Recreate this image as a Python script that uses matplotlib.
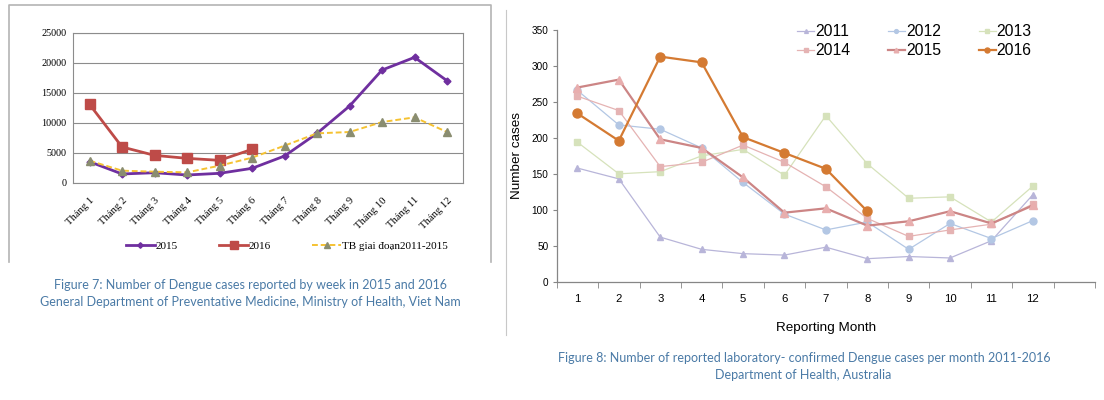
import numpy as np
import matplotlib
matplotlib.use('Agg')
import matplotlib.pyplot as plt
from matplotlib.lines import Line2D

W, H = 1104, 400

# --- left chart: Viet Nam, cases per month ---
vn_months = ['Tháng %d' % i for i in range(1, 13)]
vn_2015 = [3540, 1500, 1710, 1330, 1610, 2440, 4490, 8260, 12800, 18790, 20900, 17010]
vn_2016 = [13080, 5990, 4600, 4100, 3770, 5600]
vn_avg = [3710, 2050, 1880, 1770, 2880, 4210, 6210, 8260, 8480, 10140, 10920, 8480]
vn_yticks = [0, 5000, 10000, 15000, 20000, 25000]

# --- right chart: Australia, lab-confirmed cases per month ---
au_months = list(range(1, 13))
au_2011 = [158, 143, 62, 45, 39, 37, 48, 32, 35, 33, 57, 121]
au_2012 = [266, 218, 212, 186, 138, 94, 72, 83, 45, 81, 60, 85]
au_2013 = [194, 150, 153, 175, 184, 148, 231, 164, 116, 118, 83, 133]
au_2014 = [258, 238, 160, 166, 190, 166, 132, 88, 63, 72, 80, 108]
au_2015 = [270, 281, 198, 186, 145, 96, 102, 78, 84, 98, 81, 106]
au_2016 = [234, 196, 313, 305, 201, 179, 157, 98]

caption_col = '#4a7aa6'
serif = 'Liberation Serif'
sans = 'Liberation Sans'

def px(x0, y0, x1, y1):
    # pixel box (top-left origin) -> figure fraction rect
    return [x0 / W, 1 - y1 / H, (x1 - x0) / W, (y1 - y0) / H]

def fline(fig, xs, ys, **kw):
    fig.add_artist(Line2D([x / W for x in xs], [1 - y / H for y in ys],
                          transform=fig.transFigure, **kw))

fig = plt.figure(figsize=(W / 100, H / 100), dpi=100)

# frames around the two panels
fline(fig, [9.3, 9.3, 490.7, 490.7], [262, 5, 5, 262], color='#b4b4b4', lw=1.2)
fline(fig, [506, 506], [10, 335], color='#c8c8c8', lw=0.8)

# ---------------- left ----------------
ax1 = fig.add_axes(px(73.3, 32.7, 463.3, 183))
x = np.arange(1, 13)
ax1.plot(x, vn_2015, color='#6f2f9f', lw=2, marker='D', ms=3.5, label='2015')
ax1.plot(x[:len(vn_2016)], vn_2016, color='#be4b48', lw=2, marker='s', ms=7, label='2016')
ax1.plot(x, vn_avg, color='#f5c232', lw=1.4, ls=(0, (3, 1.5)), marker='^', ms=6,
         mfc='#8a8d70', mec='#8a8d70', label='TB giai đoạn2011-2015')
ax1.set_xlim(0.5, 12.5)
ax1.set_ylim(0, 25000)
ax1.set_yticks(vn_yticks)
ax1.set_yticklabels([str(v) for v in vn_yticks], fontfamily=serif, fontsize=7.3)
ax1.set_xticks(x)
ax1.set_xticklabels(vn_months, rotation=45, ha='right', va='top', rotation_mode='anchor',
                    fontfamily=serif, fontsize=7.6)
ax1.tick_params(axis='both', length=0, pad=5)
ax1.tick_params(axis='x', pad=9)
ax1.grid(axis='y', color='#8c8c8c', lw=0.8)
ax1.set_axisbelow(True)
for s in ax1.spines.values():
    s.set_color('#8c8c8c')
    s.set_linewidth(0.8)
ax1.legend(loc='center', bbox_to_anchor=(287 / W, 1 - 245.7 / H), bbox_transform=fig.transFigure,
           ncol=3, frameon=False, prop={'family': serif, 'size': 8}, handlelength=2.6,
           handletextpad=0.1, columnspacing=3.7, markerscale=0.8, borderpad=0)

fig.text(250 / W, 1 - 285 / H, 'Figure 7: Number of Dengue cases reported by week in 2015 and 2016',
         ha='center', va='center', color=caption_col, fontfamily='Lato', fontsize=9.0)
fig.text(250 / W, 1 - 301.7 / H, 'General Department of Preventative Medicine, Ministry of Health, Viet Nam',
         ha='center', va='center', color=caption_col, fontfamily='Lato', fontsize=9.0)

# ---------------- right ----------------
ax2 = fig.add_axes(px(556.7, 30, 1095, 281.7))
m = np.array(au_months)
thin = dict(lw=0.9, ms=5)
l11, = ax2.plot(m, au_2011, color='#b8b5d9', marker='^', label='2011', **thin)
l12, = ax2.plot(m, au_2012, color='#b3c7e4', marker='o', label='2012', **thin)
l13, = ax2.plot(m, au_2013, color='#d6e2bb', marker='s', label='2013', **thin)
l14, = ax2.plot(m, au_2014, color='#e5b3b3', marker='s', label='2014', **thin)
l15, = ax2.plot(m, au_2015, color='#cc8585', marker='^', mfc='#e8aeae', mec='#e8aeae',
                lw=1.6, ms=6, label='2015')
l16, = ax2.plot(m[:len(au_2016)], au_2016, color='#d47a32', marker='o', lw=1.6, ms=6.5,
                label='2016')

ax2.set_xlim(0.5, 13.5)
ax2.set_ylim(0, 350)
ax2.set_yticks(np.arange(0, 351, 50))
ax2.set_xticks(m)
ax2.set_xticks(np.arange(0.5, 13.6, 1), minor=True)
ax2.tick_params(axis='x', which='major', length=0, pad=9, labelsize=8.2)
ax2.tick_params(axis='x', which='minor', length=4, direction='out', color='#868686')
ax2.tick_params(axis='y', length=3, direction='out', color='#868686', labelsize=7.2, pad=3)
for s in ['top', 'right']:
    ax2.spines[s].set_visible(False)
for s in ['left', 'bottom']:
    ax2.spines[s].set_color('#868686')
    ax2.spines[s].set_linewidth(0.9)
for lab in ax2.get_xticklabels() + ax2.get_yticklabels():
    lab.set_fontfamily(sans)
ax2.set_xlabel('Reporting Month', fontfamily=sans, fontsize=9.7, labelpad=13)
ax2.set_ylabel('Number cases', fontfamily=sans, fontsize=9.7, labelpad=6)

# row-wise order for the 3-column legend
order = [l11, l14, l12, l15, l13, l16]
ax2.legend(order, [h.get_label() for h in order], loc='upper left',
           bbox_to_anchor=(797 / W, 1 - 24.5 / H), bbox_transform=fig.transFigure,
           ncol=3, frameon=False, prop={'family': sans, 'size': 11.3},
           handlelength=1.1, handletextpad=0.05, columnspacing=2.4, labelspacing=0.25,
           markerscale=0.55, borderpad=0, borderaxespad=0)

fig.text(804 / W, 1 - 358.3 / H,
         'Figure 8: Number of reported laboratory- confirmed Dengue cases per month 2011-2016',
         ha='center', va='center', color=caption_col, fontfamily='Lato', fontsize=9.0)
fig.text(803 / W, 1 - 375 / H, 'Department of Health, Australia',
         ha='center', va='center', color=caption_col, fontfamily='Lato', fontsize=9.0)

fig.savefig('out.png', dpi=100)
